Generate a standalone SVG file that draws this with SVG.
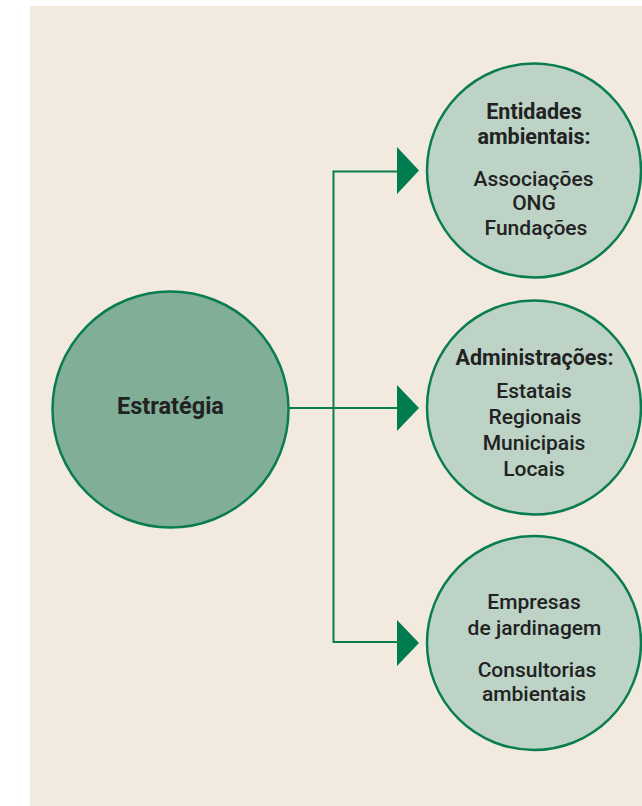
<svg xmlns="http://www.w3.org/2000/svg" width="642" height="806" viewBox="0 0 642 806">
<defs>
<style>
.bg{fill:#ffffff}
.panel{fill:#f2eadf}
.node{fill:#bcd3c6;stroke:#0a7d50;stroke-width:2.5}
.main{fill:#80ae97;stroke:#0a7d50;stroke-width:2.5}
.t{font-family:Roboto,"Liberation Sans",sans-serif;font-size:21px;font-weight:500;fill:#222222;text-anchor:middle}
.b{font-weight:bold;font-size:21.5px}
.tm{font-family:Roboto,"Liberation Sans",sans-serif;font-size:23.5px;font-weight:bold;fill:#222222;text-anchor:middle}
.edge{fill:none;stroke:#0a7d50;stroke-width:2}
.head{fill:#007c4f}
</style>
</defs>
<rect class="bg" x="0" y="0" width="642" height="806"/>
<rect class="panel" x="30" y="6" width="612" height="800"/>
<g id="connectors">
<path class="edge" d="M289 408 H398"/>
<path class="edge" d="M398 171.5 H333.5 V642 H398"/>
<polygon class="head" points="397,147 419,170.5 397,194"/>
<polygon class="head" points="397,385 419,408 397,431"/>
<polygon class="head" points="397,620 419,643 397,666"/>
</g>
<g id="estrategia">
<circle class="main" cx="170.5" cy="409.5" r="118"/>
<text class="tm" x="170.5" y="414">Estratégia</text>
</g>
<g id="entidades">
<circle class="node" cx="534" cy="170.5" r="107"/>
<text class="t b" x="534" y="119">Entidades</text>
<text class="t b" x="534" y="144">ambientais:</text>
<text class="t" x="533.5" y="186">Associações</text>
<text class="t" x="534" y="210">ONG</text>
<text class="t" x="536" y="235">Fundações</text>
</g>
<g id="administracoes">
<circle class="node" cx="534" cy="407.5" r="107"/>
<text class="t b" x="534.5" y="365">Administrações:</text>
<text class="t" x="534" y="398">Estatais</text>
<text class="t" x="535" y="424">Regionais</text>
<text class="t" x="534" y="450">Municipais</text>
<text class="t" x="534" y="476">Locais</text>
</g>
<g id="empresas">
<circle class="node" cx="534" cy="643" r="107"/>
<text class="t" x="534" y="609">Empresas</text>
<text class="t" x="534.5" y="635">de jardinagem</text>
<text class="t" x="537" y="677">Consultorias</text>
<text class="t" x="534" y="701">ambientais</text>
</g>
</svg>
